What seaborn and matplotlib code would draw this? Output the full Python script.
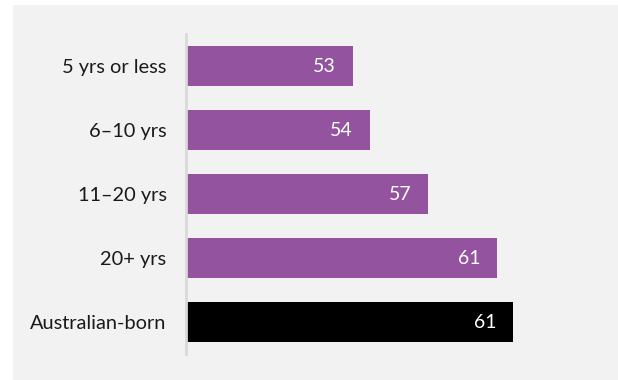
import matplotlib
matplotlib.use("Agg")
import matplotlib.pyplot as plt
import seaborn as sns
import pandas as pd
from matplotlib.patches import Rectangle

# --- Data ---
categories = ["5 yrs or less", "6\u201310 yrs", "11\u201320 yrs", "20+ yrs", "Australian-born"]
values = [53.35, 54.2, 57.15, 60.6, 61.4]
bar_colors = ["#93539f", "#93539f", "#93539f", "#93539f", "#000000"]

df = pd.DataFrame({"group": categories, "value": values})

sns.set_style("white")
plt.rcParams["font.family"] = ["Lato", "DejaVu Sans"]

fig = plt.figure(figsize=(6.18, 3.80), dpi=100)
fig.patch.set_facecolor("white")
fig.patches.append(Rectangle((13 / 618, 0), 1 - 13 / 618, 375 / 380,
                             transform=fig.transFigure, facecolor="#f2f2f2",
                             edgecolor="none", zorder=-10))

ax = fig.add_axes([186 / 618, 26 / 380, (595 - 186) / 618, 320 / 380])
ax.set_facecolor("#f2f2f2")

sns.barplot(data=df, x="value", y="group", hue="group", palette=bar_colors,
            legend=False, orient="h", width=0.625, saturation=1,
            edgecolor="none", ax=ax)

ax.set_xlim(45, 65.5)
ax.set_ylim(4.5, -0.5)
ax.set_xlabel("")
ax.set_ylabel("")
ax.set_xticks([])

for s in ["top", "right", "bottom"]:
    ax.spines[s].set_visible(False)
ax.spines["left"].set_color("#d9d9d9")
ax.spines["left"].set_linewidth(2)

ax.tick_params(axis="y", length=0, pad=14, labelsize=14.4, labelcolor="#1a1a1a")

# value labels inside bar ends
for patch, v in zip(ax.patches, values):
    y = patch.get_y() + patch.get_height() / 2
    ax.annotate(f"{v:.0f}", xy=(patch.get_x() + patch.get_width(), y),
                xytext=(-12, 0), textcoords="offset points",
                ha="right", va="center", color="white", fontsize=14)

fig.savefig("out.png", dpi=100)
